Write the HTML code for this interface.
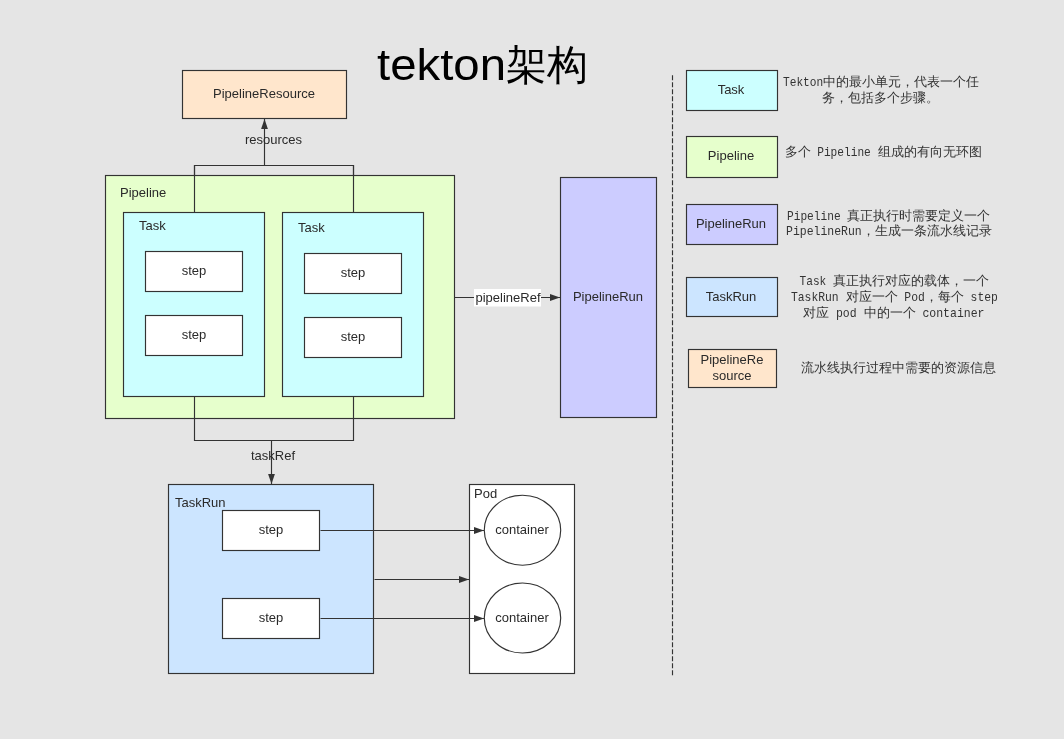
<!DOCTYPE html>
<html><head><meta charset="utf-8">
<style>
html,body{margin:0;padding:0;background:#e5e5e5;width:1064px;height:739px;overflow:hidden}
#w{position:absolute;left:0;top:0;width:1064px;height:739px;will-change:transform}
svg{display:block}
rect[stroke],line,polyline,ellipse{stroke-width:1.15}
text{font-family:"Liberation Sans",sans-serif;fill:#2a2a2a;font-size:13px}
.m{font-family:"Liberation Mono",monospace;fill:#333;font-size:13px;font-weight:300}
</style></head><body>
<div id="w">
<svg width="1064" height="739" viewBox="0 0 1064 739">
<defs>
<marker id="ah" viewBox="0 0 10 10" refX="10" refY="5" markerWidth="10" markerHeight="10" markerUnits="userSpaceOnUse" orient="auto">
<path d="M0,1.6 L10,5 L0,8.4 Z" fill="#333"/>
</marker>
</defs>

<text x="377" y="80" textLength="129" lengthAdjust="spacingAndGlyphs" style="font-size:44px;fill:#000">tekton</text>
<text x="506.3" y="79" style="font-size:41px;fill:#000;font-weight:300">架构</text>

<!-- PipelineResource -->
<rect x="182.5" y="70.5" width="164" height="48" fill="#ffe6cc" stroke="#333"/>
<text x="264" y="98" text-anchor="middle">PipelineResource</text>
<!-- resources arrow -->
<line x1="264.5" y1="165" x2="264.5" y2="119" stroke="#333" marker-end="url(#ah)"/>
<text x="273.5" y="144" text-anchor="middle">resources</text>
<polyline points="194.5,212 194.5,165.5 353.5,165.5 353.5,212" fill="none" stroke="#333"/>

<!-- Pipeline -->
<rect x="105.5" y="175.5" width="349" height="243" fill="#e6ffcc" stroke="#333"/>
<text x="120" y="197">Pipeline</text>
<line x1="194.5" y1="165" x2="194.5" y2="212" stroke="#333"/>
<line x1="353.5" y1="165" x2="353.5" y2="212" stroke="#333"/>
<rect x="123.5" y="212.5" width="141" height="184" fill="#ccffff" stroke="#333"/>
<text x="139" y="230">Task</text>
<rect x="282.5" y="212.5" width="141" height="184" fill="#ccffff" stroke="#333"/>
<text x="298" y="232">Task</text>
<rect x="145.5" y="251.5" width="97" height="40" fill="#fff" stroke="#333"/>
<text x="194" y="275" text-anchor="middle">step</text>
<rect x="145.5" y="315.5" width="97" height="40" fill="#fff" stroke="#333"/>
<text x="194" y="339" text-anchor="middle">step</text>
<rect x="304.5" y="253.5" width="97" height="40" fill="#fff" stroke="#333"/>
<text x="353" y="277" text-anchor="middle">step</text>
<rect x="304.5" y="317.5" width="97" height="40" fill="#fff" stroke="#333"/>
<text x="353" y="341" text-anchor="middle">step</text>

<!-- taskRef -->
<polyline points="194.5,396 194.5,440.5 353.5,440.5 353.5,396" fill="none" stroke="#333"/>
<line x1="271.5" y1="440" x2="271.5" y2="484" stroke="#333" marker-end="url(#ah)"/>
<text x="273" y="460" text-anchor="middle">taskRef</text>

<!-- pipelineRef -->
<line x1="454" y1="297.5" x2="560" y2="297.5" stroke="#333" marker-end="url(#ah)"/>
<rect x="474" y="289" width="67" height="17.5" fill="#fff"/>
<text x="508" y="302" text-anchor="middle">pipelineRef</text>

<!-- PipelineRun -->
<rect x="560.5" y="177.5" width="96" height="240" fill="#ccccff" stroke="#333"/>
<text x="608" y="301" text-anchor="middle">PipelineRun</text>

<!-- dashed -->
<line x1="672.5" y1="75.2" x2="672.5" y2="676" stroke="#333" stroke-dasharray="5,2"/>

<!-- TaskRun -->
<rect x="168.5" y="484.5" width="205" height="189" fill="#cce5ff" stroke="#333"/>
<text x="175" y="507">TaskRun</text>
<rect x="222.5" y="510.5" width="97" height="40" fill="#fff" stroke="#333"/>
<text x="271" y="534" text-anchor="middle">step</text>
<rect x="222.5" y="598.5" width="97" height="40" fill="#fff" stroke="#333"/>
<text x="271" y="622" text-anchor="middle">step</text>

<!-- Pod -->
<rect x="469.5" y="484.5" width="105" height="189" fill="#fff" stroke="#333"/>
<text x="474" y="498">Pod</text>
<ellipse cx="522.5" cy="530.2" rx="38.2" ry="35" fill="#fff" stroke="#333"/>
<text x="522" y="534" text-anchor="middle">container</text>
<ellipse cx="522.5" cy="618" rx="38.2" ry="35" fill="#fff" stroke="#333"/>
<text x="522" y="622" text-anchor="middle">container</text>
<line x1="320.5" y1="530.5" x2="484" y2="530.5" stroke="#333" marker-end="url(#ah)"/>
<line x1="374.5" y1="579.5" x2="469" y2="579.5" stroke="#333" marker-end="url(#ah)"/>
<line x1="320.5" y1="618.5" x2="484" y2="618.5" stroke="#333" marker-end="url(#ah)"/>

<!-- legend -->
<rect x="686.5" y="70.5" width="91" height="40" fill="#ccffff" stroke="#333"/>
<text x="731" y="94" text-anchor="middle">Task</text>
<rect x="686.5" y="136.5" width="91" height="41" fill="#e6ffcc" stroke="#333"/>
<text x="731" y="160" text-anchor="middle">Pipeline</text>
<rect x="686.5" y="204.5" width="91" height="40" fill="#ccccff" stroke="#333"/>
<text x="731" y="228" text-anchor="middle">PipelineRun</text>
<rect x="686.5" y="277.5" width="91" height="39" fill="#cce5ff" stroke="#333"/>
<text x="731" y="301" text-anchor="middle">TaskRun</text>
<rect x="688.5" y="349.5" width="88" height="38" fill="#ffe6cc" stroke="#333"/>
<text x="732" y="364" text-anchor="middle">PipelineRe</text>
<text x="732" y="380" text-anchor="middle">source</text>

<!-- legend text -->
<text class="m" x="783" y="85.8"><tspan textLength="40.2" lengthAdjust="spacingAndGlyphs">Tekton</tspan>中的最小单元，代表一个任</text>
<text class="m" x="822" y="101.5">务，包括多个步骤。</text>
<text class="m" x="784.5" y="155.5">多个<tspan textLength="67" lengthAdjust="spacingAndGlyphs"> Pipeline </tspan>组成的有向无环图</text>
<text class="m" x="787" y="219.7"><tspan textLength="60.3" lengthAdjust="spacingAndGlyphs">Pipeline </tspan>真正执行时需要定义一个</text>
<text class="m" x="786" y="235.3"><tspan textLength="75.7" lengthAdjust="spacingAndGlyphs">PipelineRun</tspan>，生成一条流水线记录</text>
<text class="m" x="799.5" y="285"><tspan textLength="33.5" lengthAdjust="spacingAndGlyphs">Task </tspan>真正执行对应的载体，一个</text>
<text class="m" x="791" y="301"><tspan textLength="54.5" lengthAdjust="spacingAndGlyphs">TaskRun </tspan>对应一个<tspan textLength="27.3" lengthAdjust="spacingAndGlyphs"> Pod</tspan>，每个<tspan textLength="34.1" lengthAdjust="spacingAndGlyphs"> step</tspan></text>
<text class="m" x="803" y="316.8">对应<tspan textLength="34.5" lengthAdjust="spacingAndGlyphs"> pod </tspan>中的一个<tspan textLength="69" lengthAdjust="spacingAndGlyphs"> container</tspan></text>
<text class="m" x="801" y="372">流水线执行过程中需要的资源信息</text>
</svg>
</div>
</body></html>
